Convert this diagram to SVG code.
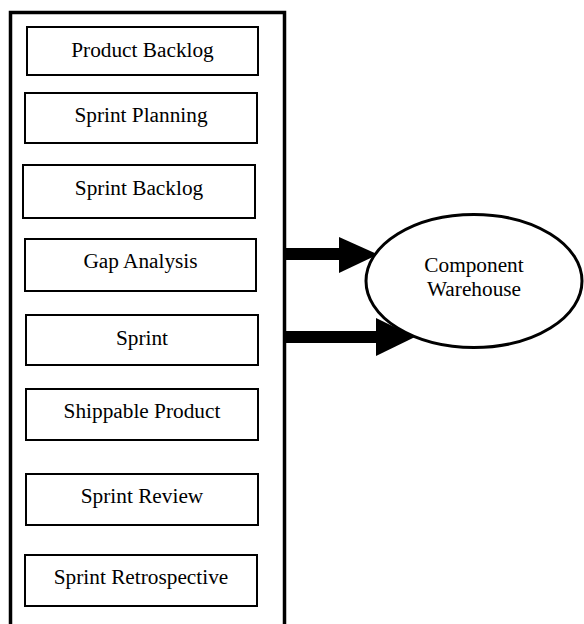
<svg xmlns="http://www.w3.org/2000/svg" width="584" height="624" viewBox="0 0 584 624">
<style>
  .box { fill: #fff; stroke: #000; stroke-width: 2; }
  .lbl { font-family: "Liberation Serif", "Times New Roman", serif; font-size: 21.3px; fill: #000; text-anchor: middle; }
  .arrow { fill: #000; }
</style>
<rect width="584" height="624" fill="#fff"/>
<g id="frame">
  <rect x="10.5" y="12.5" width="274" height="640" fill="none" stroke="#000" stroke-width="3.5"/>
</g>
<g id="product-backlog"><rect class="box" x="27" y="27" width="231" height="48"/><text class="lbl" x="142.5" y="57">Product Backlog</text></g>
<g id="sprint-planning"><rect class="box" x="25" y="93" width="232" height="50"/><text class="lbl" x="141" y="122">Sprint Planning</text></g>
<g id="sprint-backlog"><rect class="box" x="23" y="165" width="232" height="53"/><text class="lbl" x="139" y="195">Sprint Backlog</text></g>
<g id="gap-analysis"><rect class="box" x="25" y="239" width="231" height="52"/><text class="lbl" x="140.5" y="268">Gap Analysis</text></g>
<g id="sprint"><rect class="box" x="26" y="315" width="232" height="50"/><text class="lbl" x="142" y="345">Sprint</text></g>
<g id="shippable-product"><rect class="box" x="26" y="389" width="232" height="51"/><text class="lbl" x="142" y="418">Shippable Product</text></g>
<g id="sprint-review"><rect class="box" x="26" y="474" width="232" height="51"/><text class="lbl" x="142" y="503">Sprint Review</text></g>
<g id="sprint-retrospective"><rect class="box" x="25" y="555" width="232" height="51"/><text class="lbl" x="141" y="584">Sprint Retrospective</text></g>
<g id="connectors">
  <rect class="arrow" x="284" y="248" width="56" height="12"/>
  <polygon class="arrow" points="339,237 378,254.5 339,273"/>
  <rect class="arrow" x="284" y="331" width="93" height="12"/>
  <polygon class="arrow" points="376,318 415,337 376,356"/>
</g>
<g id="component-warehouse">
  <ellipse cx="474" cy="281" rx="108" ry="66.5" fill="#fff" stroke="#000" stroke-width="3"/>
  <text class="lbl" x="474" y="272">Component</text>
  <text class="lbl" x="474" y="296">Warehouse</text>
</g>
</svg>
